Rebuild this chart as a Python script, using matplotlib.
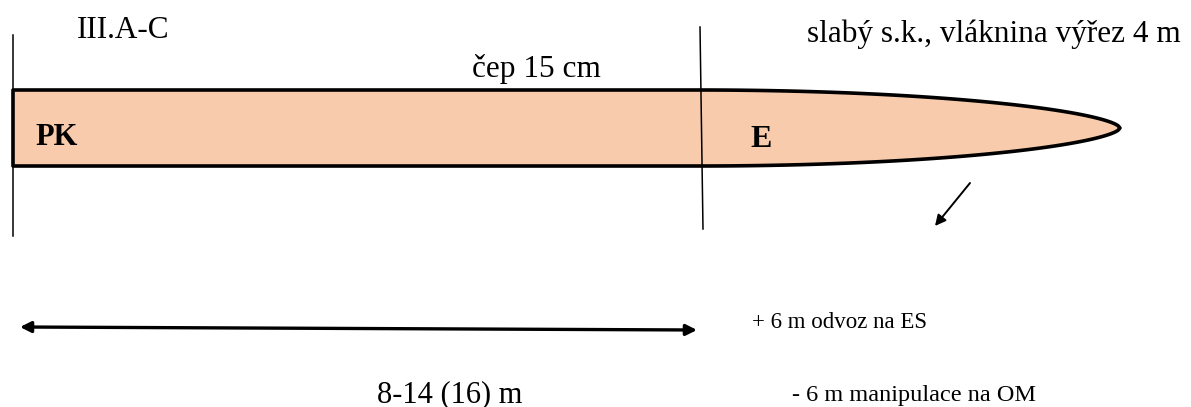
import numpy as np
import matplotlib.pyplot as plt
from matplotlib.patches import Polygon

# popisky
labels_top = ["III.A-C", "slabý s.k., vláknina výřez 4 m"]
label_cep = "čep 15 cm"
labels_parts = ["PK", "E"]
label_length = "8-14 (16) m"
notes = ["+ 6 m odvoz na ES", "- 6 m manipulace na OM"]

plt.rcParams['font.family'] = ['Liberation Serif', 'DejaVu Serif']

fig = plt.figure(figsize=(11.91, 4.07), dpi=100)
ax = fig.add_axes([0, 0, 1, 1])
ax.set_xlim(0, 1191)
ax.set_ylim(407, 0)
ax.axis('off')

# kmen - obrys
x0, xc, xt = 13, 700, 1120
ymid, half = 128, 38
t = np.linspace(0, 1, 200)
h = half * (1 - t ** 2) ** 0.6
xs = xc + t * (xt - xc)
top = [(x0, ymid - half)] + list(zip(xs, ymid - h))
bot = list(zip(xs[::-1], (ymid + h)[::-1])) + [(x0, ymid + half)]
log = Polygon(top + bot, closed=True, facecolor='#F7CBAC', edgecolor='black', lw=2.6, joinstyle='round')
ax.add_patch(log)

# svislé čáry
ax.plot([13, 13], [35, 236], color='black', lw=1.1)
ax.plot([700, 703], [27, 229], color='black', lw=1.1)

# texty
ax.text(77, 38, labels_top[0], fontsize=22.5, va='baseline', ha='left')
ax.text(807, 42, labels_top[1], fontsize=22.5, va='baseline', ha='left')
ax.text(472, 77, label_cep, fontsize=22.5, va='baseline', ha='left')
ax.text(35, 145, labels_parts[0], fontsize=22, fontweight='bold', va='baseline', ha='left')
ax.text(750, 147, labels_parts[1], fontsize=23, fontweight='bold', va='baseline', ha='left')

# šipky
ax.annotate('', xy=(935, 226), xytext=(970, 183),
            arrowprops=dict(arrowstyle='-|>', color='black', lw=1.4, mutation_scale=16,
                            shrinkA=0, shrinkB=0))
ax.annotate('', xy=(20, 327), xytext=(697, 330),
            arrowprops=dict(arrowstyle='<|-|>', color='black', lw=2.4, mutation_scale=16,
                            shrinkA=0, shrinkB=0))

ax.text(450, 402, label_length, fontsize=22, va='baseline', ha='center')
ax.text(752, 328, notes[0], fontsize=16.5, va='baseline', ha='left')
ax.text(792, 401, notes[1], fontsize=17.5, va='baseline', ha='left')

fig.savefig('out.png', dpi=100)
